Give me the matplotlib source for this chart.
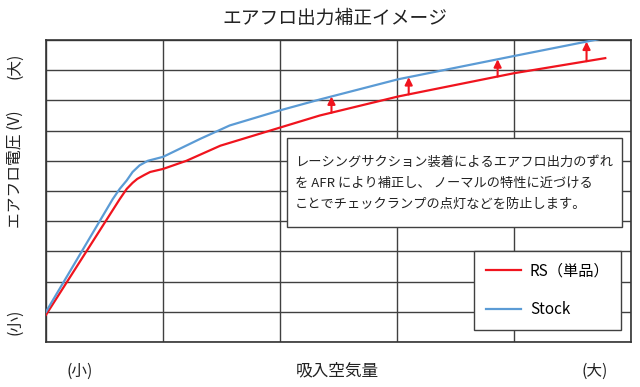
import matplotlib
matplotlib.use("Agg")
import matplotlib.pyplot as plt
import numpy as np
from matplotlib.patches import Rectangle

plt.rcParams['font.family'] = ['Noto Sans CJK JP', 'DejaVu Sans']

# ---- data (arbitrary units: x 0..5, y 0..10) ----
x_stock = [0, 0.57, 0.63, 0.69, 0.74, 0.80, 0.87, 1.0, 1.32, 1.57, 2.0, 2.34, 3.01, 4.0, 4.78]
y_stock = [1.0, 4.73, 5.07, 5.35, 5.63, 5.85, 6.0, 6.13, 6.73, 7.17, 7.67, 8.03, 8.7, 9.47, 10.07]

x_rs = [0, 0.63, 0.69, 0.74, 0.78, 0.84, 0.89, 1.0, 1.2, 1.49, 2.0, 2.34, 3.01, 4.0, 4.78]
y_rs = [0.9, 4.73, 5.07, 5.27, 5.4, 5.53, 5.63, 5.73, 6.0, 6.5, 7.1, 7.5, 8.13, 8.9, 9.4]

arrow_x = [2.44, 3.10, 3.86, 4.62]

series_labels = ['RS（単品）', 'Stock']
title = 'エアフロ出力補正イメージ'
ylabel = 'エアフロ電圧 (V)'
xlabel = '吸入空気量'
small_label = '(小)'
large_label = '(大)'
note_lines = ['レーシングサクション装着によるエアフロ出力のずれ',
              'を AFR により補正し、 ノーマルの特性に近づける',
              'ことでチェックランプの点灯などを防止します。']

RED = '#F0141E'
BLUE = '#5B9BD5'
GRID = '#404040'

fig = plt.figure(figsize=(6.4, 3.87), dpi=100)
ax = fig.add_axes([46/640, 1-342/387, 585/640, 302/387])
ax.set_xlim(0, 5)
ax.set_ylim(0, 10)
ax.set_xticks(range(6))
ax.set_yticks(range(11))
ax.grid(True, color=GRID, lw=1.0)
ax.tick_params(length=0, labelbottom=False, labelleft=False)
for s in ax.spines.values():
    s.set_color('#333333')
    s.set_linewidth(1.2)

l1, = ax.plot(x_rs, y_rs, color=RED, lw=1.6, solid_joinstyle='round', label=series_labels[0], zorder=3)
l2, = ax.plot(x_stock, y_stock, color=BLUE, lw=1.6, solid_joinstyle='round', label=series_labels[1], zorder=3)

for xa in arrow_x:
    y0 = np.interp(xa, x_rs, y_rs)
    y1 = np.interp(xa, x_stock, y_stock)
    ax.annotate('', xy=(xa, y1), xytext=(xa, y0),
                arrowprops=dict(arrowstyle='-|>', color=RED, lw=1.5,
                                mutation_scale=11, shrinkA=0, shrinkB=0),
                zorder=4)

# note box
ax.add_patch(Rectangle((0.412, 0.381), 0.573, 0.294, transform=ax.transAxes,
                       facecolor='white', edgecolor='#404040', lw=1.0, zorder=5))
for yy, line in zip([0.596, 0.526, 0.454], note_lines):
    ax.text(0.4256, yy, line, transform=ax.transAxes, fontsize=9.5,
            va='center', ha='left', color='#222222', zorder=6)

leg = ax.legend(handles=[l1, l2], loc='lower right', bbox_to_anchor=(0.983, 0.040),
                borderaxespad=0, fontsize=11, frameon=True, fancybox=False,
                edgecolor='#404040', framealpha=1, handlelength=2.3,
                handletextpad=0.6, labelspacing=1.45, borderpad=0.75)
leg.get_frame().set_linewidth(1.0)
leg.set_zorder(6)

fig.text(335/640, 1-18/387, title, fontsize=13.5, ha='center', va='center', color='#222222')
fig.text(15/640, 1-169/387, ylabel, fontsize=11.3, rotation=90, ha='center', va='center', color='#222222')
fig.text(15/640, 1-66/387, large_label, fontsize=11.3, rotation=90, ha='center', va='center', color='#222222')
fig.text(15/640, 1-322/387, small_label, fontsize=11.3, rotation=90, ha='center', va='center', color='#222222')
fig.text(337/640, 1-371/387, xlabel, fontsize=12, ha='center', va='center', color='#222222')
fig.text(80/640, 1-371/387, small_label, fontsize=11.3, ha='center', va='center', color='#222222')
fig.text(595/640, 1-371/387, large_label, fontsize=11.3, ha='center', va='center', color='#222222')

fig.savefig('out.png', dpi=100)
